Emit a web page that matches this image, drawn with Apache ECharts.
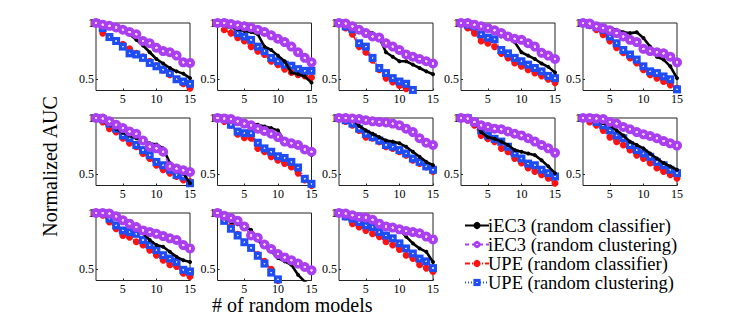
<!DOCTYPE html>
<html>
<head>
<meta charset="utf-8">
<script src="https://cdn.jsdelivr.net/npm/echarts@6/dist/echarts.min.js"></script>
<style>html,body{margin:0;padding:0;background:#fff}#c{width:747px;height:315px}</style>
</head>
<body>
<div id="c"></div>
<script>
// x positions (# of random models)
const xValues = [1,2,3,4,5,6,7,8,9,10,11,12,13,14,15];
const xTicks = [5, 10, 15];
const yTicks = [0.5, 1];
const seriesNames = ['iEC3 (random classifier)', 'iEC3 (random clustering)', 'UPE (random classifier)', 'UPE (random clustering)'];

// one row of 15 values per panel (13 panels, row-major)
const iec3Classifier = [
  [1,0.99,0.97,0.95,0.93,0.90,0.85,0.80,0.74,0.68,0.64,0.60,0.57,0.55,0.51],
  [1,0.98,0.96,0.945,0.93,0.92,0.90,0.79,0.76,0.71,0.66,0.56,0.545,0.525,0.47],
  [1,0.985,0.97,0.955,0.93,0.91,0.87,0.74,0.70,0.66,0.66,0.63,0.60,0.57,0.545],
  [1,0.99,0.98,0.96,0.94,0.92,0.88,0.87,0.83,0.74,0.71,0.68,0.64,0.61,0.56],
  [1,0.99,0.98,0.97,0.955,0.94,0.917,0.91,0.917,0.867,0.79,0.70,0.675,0.615,0.51],
  [1,0.97,0.945,0.905,0.87,0.845,0.82,0.79,0.775,0.765,0.73,0.60,0.555,0.51,0.42],
  [1,0.995,0.99,0.98,0.965,0.95,0.94,0.925,0.91,0.89,0.79,0.785,0.76,0.73,0.67],
  [1,1,0.99,0.93,0.89,0.86,0.83,0.80,0.79,0.775,0.745,0.70,0.655,0.61,0.58],
  [1,0.985,0.965,0.875,0.83,0.815,0.79,0.76,0.715,0.70,0.685,0.67,0.625,0.57,0.51],
  [1,0.99,0.98,0.955,0.935,0.89,0.845,0.79,0.76,0.73,0.685,0.64,0.60,0.57,0.54],
  [1,0.995,0.99,0.96,0.935,0.89,0.86,0.82,0.76,0.715,0.70,0.655,0.61,0.58,0.565],
  [1,0.96,0.92,0.90,0.88,0.85,0.76,0.70,0.66,0.60,0.57,0.54,0.45,0.39,0.35],
  [1,0.995,0.98,0.965,0.955,0.935,0.905,0.88,0.865,0.85,0.79,0.73,0.685,0.655,0.565]
];
const iec3Clustering = [
  [1,0.985,0.975,0.96,0.94,0.92,0.90,0.84,0.82,0.78,0.75,0.74,0.71,0.65,0.645],
  [1,1,0.99,0.98,0.97,0.96,0.94,0.92,0.89,0.86,0.83,0.79,0.74,0.69,0.65],
  [1,0.995,0.97,0.94,0.91,0.88,0.87,0.82,0.79,0.76,0.72,0.70,0.68,0.66,0.64],
  [1,1,0.985,0.97,0.955,0.935,0.91,0.88,0.86,0.85,0.82,0.79,0.735,0.71,0.68],
  [1,0.995,0.97,0.955,0.935,0.91,0.88,0.85,0.83,0.77,0.75,0.74,0.73,0.70,0.65],
  [1,0.995,0.97,0.94,0.91,0.88,0.86,0.80,0.745,0.73,0.70,0.57,0.55,0.535,0.52],
  [1,0.995,0.99,0.97,0.95,0.935,0.905,0.885,0.86,0.83,0.79,0.775,0.76,0.72,0.70],
  [1,1,0.995,0.99,0.98,0.97,0.965,0.96,0.95,0.935,0.905,0.875,0.82,0.78,0.76],
  [1,0.995,0.965,0.935,0.92,0.905,0.90,0.88,0.86,0.845,0.82,0.79,0.76,0.73,0.69],
  [1,1,0.995,0.99,0.965,0.95,0.92,0.90,0.875,0.855,0.84,0.82,0.795,0.775,0.755],
  [1,1,0.995,0.97,0.935,0.905,0.875,0.845,0.83,0.815,0.795,0.775,0.76,0.715,0.685],
  [1,0.975,0.955,0.93,0.88,0.80,0.78,0.72,0.68,0.635,0.605,0.58,0.55,0.52,0.49],
  [1,0.995,0.98,0.965,0.96,0.94,0.905,0.88,0.87,0.855,0.84,0.83,0.82,0.79,0.765]
];
const upeClassifier = [
  [1,0.91,0.88,0.84,0.81,0.77,0.73,0.70,0.66,0.62,0.58,0.54,0.50,0.46,0.42],
  [1,0.94,0.91,0.87,0.84,0.79,0.75,0.72,0.66,0.63,0.59,0.56,0.54,0.53,0.515],
  [1,0.955,0.90,0.79,0.74,0.67,0.585,0.51,0.475,0.445,0.415,0.39,0.36,0.33,0.30],
  [1,0.955,0.91,0.84,0.82,0.79,0.73,0.69,0.645,0.615,0.585,0.555,0.53,0.50,0.47],
  [1,0.975,0.94,0.895,0.84,0.78,0.735,0.69,0.645,0.585,0.54,0.51,0.48,0.45,0.42],
  [1,0.965,0.905,0.875,0.82,0.775,0.745,0.685,0.64,0.58,0.54,0.51,0.48,0.45,0.435],
  [1,0.97,0.935,0.855,0.825,0.82,0.73,0.70,0.655,0.625,0.595,0.565,0.51,0.45,0.40],
  [1,0.97,0.935,0.89,0.83,0.82,0.79,0.745,0.73,0.70,0.67,0.625,0.595,0.565,0.525],
  [1,0.98,0.935,0.845,0.815,0.79,0.73,0.70,0.64,0.60,0.555,0.525,0.495,0.465,0.42],
  [1,0.965,0.935,0.89,0.83,0.79,0.76,0.715,0.67,0.64,0.60,0.555,0.525,0.495,0.465],
  [1,0.98,0.92,0.86,0.80,0.785,0.745,0.715,0.67,0.625,0.58,0.54,0.525,0.465,0.435],
  [1,0.94,0.88,0.81,0.74,0.69,0.63,0.57,0.50,0.40,0.36,0.33,0.30,0.28,0.26],
  [1,0.965,0.905,0.875,0.845,0.815,0.79,0.745,0.715,0.675,0.625,0.595,0.54,0.51,0.48]
];
const upeClustering = [
  [1,0.955,0.875,0.84,0.79,0.73,0.72,0.69,0.645,0.615,0.585,0.555,0.50,0.48,0.46],
  [1,1,0.985,0.91,0.88,0.85,0.79,0.75,0.69,0.66,0.63,0.62,0.59,0.575,0.575],
  [1,0.97,0.945,0.82,0.79,0.69,0.60,0.555,0.51,0.48,0.46,0.405,0.36,0.33,0.30],
  [1,0.985,0.97,0.90,0.87,0.855,0.76,0.73,0.69,0.66,0.63,0.60,0.57,0.53,0.51],
  [1,0.985,0.965,0.94,0.88,0.82,0.76,0.72,0.675,0.615,0.57,0.555,0.525,0.50,0.41],
  [1,0.99,0.95,0.905,0.845,0.82,0.76,0.715,0.67,0.61,0.58,0.54,0.495,0.48,0.42],
  [1,0.995,0.94,0.88,0.865,0.865,0.78,0.73,0.70,0.66,0.645,0.61,0.56,0.46,0.415],
  [1,0.98,0.95,0.905,0.86,0.83,0.80,0.76,0.745,0.715,0.685,0.64,0.61,0.57,0.54],
  [1,1,0.965,0.89,0.845,0.815,0.79,0.745,0.685,0.64,0.595,0.58,0.54,0.51,0.48],
  [1,1,0.965,0.935,0.89,0.845,0.82,0.76,0.715,0.685,0.655,0.61,0.58,0.54,0.51],
  [1,1,0.95,0.89,0.845,0.83,0.815,0.76,0.715,0.67,0.625,0.595,0.565,0.495,0.48],
  [1,0.93,0.86,0.80,0.74,0.69,0.62,0.55,0.47,0.41,0.36,0.33,0.30,0.28,0.26],
  [1,0.97,0.95,0.92,0.89,0.875,0.83,0.80,0.775,0.73,0.685,0.64,0.595,0.57,0.51]
];

const chart = echarts.init(document.getElementById('c'), null, {renderer: 'svg'});
const FONT = 'Liberation Serif';
const colLeft = [96, 217.5, 339, 461, 583];
const rowTop = [23, 118, 213];
const W = 94, H = 67.5;
const purple = '#a93ff0', red = '#ff1212', blue = '#1e4df5';
const purpleFill = {type:'radial', x:0.5, y:0.5, r:0.5, colorStops:[{offset:0,color:'#f0d0ff'},{offset:0.22,color:'#f0d0ff'},{offset:0.3,color:purple},{offset:1,color:purple}]};
const blueFill = {type:'radial', x:0.5, y:0.5, r:0.5, colorStops:[{offset:0,color:'#c8d4ff'},{offset:0.18,color:'#c8d4ff'},{offset:0.28,color:blue},{offset:1,color:blue}]};

const grids = [], xAxes = [], yAxes = [], series = [];
for (let p = 0; p < 13; p++) {
  const r = Math.floor(p / 5), c = p % 5;
  grids.push({left: colLeft[c], top: rowTop[r], width: W, height: H, show: true, borderColor: '#222', borderWidth: 1, backgroundColor: 'transparent'});
  xAxes.push({type: 'value', gridIndex: p, min: 1, max: 15,
    axisLine: {show: false}, splitLine: {show: false},
    axisTick: {show: true, inside: true, length: 2, customValues: xTicks, lineStyle: {color: '#222'}},
    axisLabel: {customValues: xTicks, fontFamily: FONT, fontSize: 12, color: '#000', margin: 2}});
  yAxes.push({type: 'value', gridIndex: p, min: 0.4, max: 1,
    axisLine: {show: false}, splitLine: {show: false},
    axisTick: {show: true, inside: true, length: 2, customValues: yTicks, lineStyle: {color: '#222'}},
    axisLabel: {customValues: yTicks, fontFamily: FONT, fontSize: 12, color: '#000', margin: 2,
      formatter: v => (v === 1 ? '1' : '0.5')}});
  const mk = arr => xValues.map((x, i) => [x, arr[p][i]]);
  series.push({name: seriesNames[2], type: 'line', xAxisIndex: p, yAxisIndex: p, data: mk(upeClassifier),
    symbol: 'circle', symbolSize: 7, itemStyle: {color: red}, lineStyle: {color: red, width: 1.5, type: [5, 2, 1, 2]}, z: 2, animation: false, clip: true});
  series.push({name: seriesNames[3], type: 'line', xAxisIndex: p, yAxisIndex: p, data: mk(upeClustering),
    symbol: 'rect', symbolSize: 8, itemStyle: {color: blueFill}, lineStyle: {color: blue, width: 1.5, type: [1, 2]}, z: 3, animation: false, clip: true});
  series.push({name: seriesNames[0], type: 'line', xAxisIndex: p, yAxisIndex: p, data: mk(iec3Classifier),
    symbol: 'circle', symbolSize: 4, itemStyle: {color: '#000'}, lineStyle: {color: '#000', width: 2.6}, z: 4, animation: false, clip: true});
  series.push({name: seriesNames[1], type: 'line', xAxisIndex: p, yAxisIndex: p, data: mk(iec3Clustering),
    symbol: 'circle', symbolSize: 10, itemStyle: {color: purpleFill}, lineStyle: {color: purple, width: 1.8, type: [4, 3]}, z: 5, animation: false, clip: true});
}

chart.setOption({
  animation: false,
  backgroundColor: '#fff',
  textStyle: {fontFamily: FONT},
  grid: grids, xAxis: xAxes, yAxis: yAxes, series: series,
  legend: {
    data: seriesNames, orient: 'vertical', left: 459, top: 211, itemGap: 0,
    itemWidth: 24, itemHeight: 9, selectedMode: false,
    textStyle: {fontFamily: FONT, fontSize: 18.5, color: '#000', lineHeight: 19, padding: [0, 0, 0, -6]}
  },
  graphic: [
    {type: 'text', left: 40, top: 95, rotation: Math.PI / 2, style: {text: 'Normalized AUC', font: '20px Liberation Serif', fill: '#000'}, originX: 0, originY: 0},
    {type: 'text', left: 212, top: 295, style: {text: '# of random models', font: '20px Liberation Serif', fill: '#000'}}
  ]
});
</script>
</body>
</html>
